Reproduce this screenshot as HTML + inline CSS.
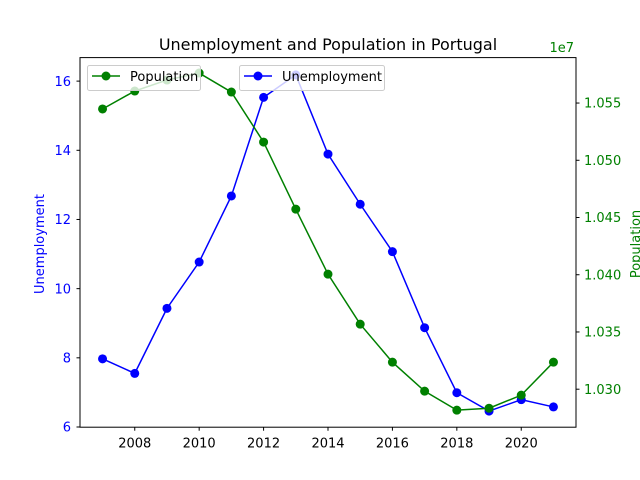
<!DOCTYPE html>
<html><head><meta charset="utf-8"><style>
body{margin:0;background:#fff}
svg{display:block;font-family:"DejaVu Sans","Liberation Sans",sans-serif}
</style></head><body>
<svg id="chart" width="640" height="480" viewBox="0 0 640 480" xmlns="http://www.w3.org/2000/svg">
<rect width="640" height="480" fill="#fff"/>
<text x="328" y="50" text-anchor="middle" font-size="16" fill="#000">Unemployment and Population in Portugal</text>
<g id="marks"></g>
<g id="axes"></g>
<text x="0" y="0" transform="translate(44,244) rotate(-90)" text-anchor="middle" font-size="13" fill="blue">Unemployment</text>
<text x="0" y="0" transform="translate(640,244) rotate(-90)" text-anchor="middle" font-size="13" fill="green">Population</text>
<text x="574" y="52" text-anchor="end" font-size="13" fill="green">1e7</text>
<g>
<rect x="87.5" y="65.5" width="113" height="25" rx="2" fill="#fff" fill-opacity="0.8" stroke="#ccc"/>
<line x1="92" y1="76" x2="120" y2="76" stroke="green" stroke-width="1.5"/>
<circle cx="106" cy="76" r="4.5" fill="green"/>
<text x="130" y="81" font-size="13" fill="#000">Population</text>
</g>
<g>
<rect x="239.5" y="65.5" width="145" height="25" rx="2" fill="#fff" fill-opacity="0.8" stroke="#ccc"/>
<line x1="244" y1="76" x2="272" y2="76" stroke="blue" stroke-width="1.5"/>
<circle cx="258" cy="76" r="4.5" fill="blue"/>
<text x="282" y="81" font-size="13" fill="#000">Unemployment</text>
</g>
</svg>
<script>
const years = [2007,2008,2009,2010,2011,2012,2013,2014,2015,2016,2017,2018,2019,2020,2021];
const unemployment = [7.97,7.55,9.43,10.77,12.68,15.53,16.18,13.89,12.44,11.07,8.87,6.99,6.46,6.79,6.58];
const population = [1.05448,1.05605,1.05701,1.05762,1.05596,1.05159,1.04573,1.04005,1.03568,1.03236,1.02983,1.02817,1.02834,1.02948,1.03236];
const xTicks = [2008,2010,2012,2014,2016,2018,2020];
const yLeftTicks = [6,8,10,12,14,16];
const yRightTicks = [1.030,1.035,1.040,1.045,1.050,1.055];

const L=80,R=576,T=57.6,B=427.2;
const xMin=2006.3,xMax=2021.7;
const yLMin=5.994,yLMax=16.68;
const yRMin=1.02668,yRMax=1.05897;
const X=v=>L+(v-xMin)/(xMax-xMin)*(R-L);
const YL=v=>B-(v-yLMin)/(yLMax-yLMin)*(B-T);
const YR=v=>B-(v-yRMin)/(yRMax-yRMin)*(B-T);
const NS='http://www.w3.org/2000/svg';
function mk(tag,attrs,parent){const e=document.createElementNS(NS,tag);for(const k in attrs)e.setAttribute(k,attrs[k]);parent.appendChild(e);return e;}
const marks=document.getElementById('marks'), axes=document.getElementById('axes');

function series(vals,Y,color,name){
  const g=mk('g',{},marks);
  
  
  const pl=mk('polyline',{points:vals.map((v,i)=>X(years[i])+','+Y(v)).join(' '),fill:'none',stroke:color,'stroke-width':1.5},g);
  
  
  vals.forEach((v,i)=>{
    const c=mk('circle',{cx:X(years[i]),cy:Y(v),r:4.5,fill:color},g);
    
    
  });
}
series(unemployment,YL,'blue','unemployment');
series(population,YR,'green','population');

const frame=mk('rect',{x:L,y:T,width:R-L,height:B-T,fill:'none',stroke:'#000','stroke-width':1},axes);


xTicks.forEach(t=>{
  const x=X(t);
  const l=mk('line',{x1:x,y1:B,x2:x,y2:B+3.5,stroke:'#000'},axes);
  
  
  const tx=mk('text',{x:x,y:B+20.5,'text-anchor':'middle','font-size':13,fill:'#000'},axes);
  tx.textContent=t;
  
  
});
yLeftTicks.forEach(t=>{
  const y=YL(t);
  const l=mk('line',{x1:L-3.5,y1:y,x2:L,y2:y,stroke:'#000'},axes);
  
  
  const tx=mk('text',{x:L-9,y:y+4.7,'text-anchor':'end','font-size':13,fill:'blue'},axes);
  tx.textContent=t;
  
  
});
yRightTicks.forEach(t=>{
  const y=YR(t);
  const l=mk('line',{x1:R,y1:y,x2:R+3.5,y2:y,stroke:'#000'},axes);
  
  
  const tx=mk('text',{x:R+8,y:y+4.7,'text-anchor':'start','font-size':13,fill:'green'},axes);
  tx.textContent=t.toFixed(3);
  
  
});
</script>
</body></html>
